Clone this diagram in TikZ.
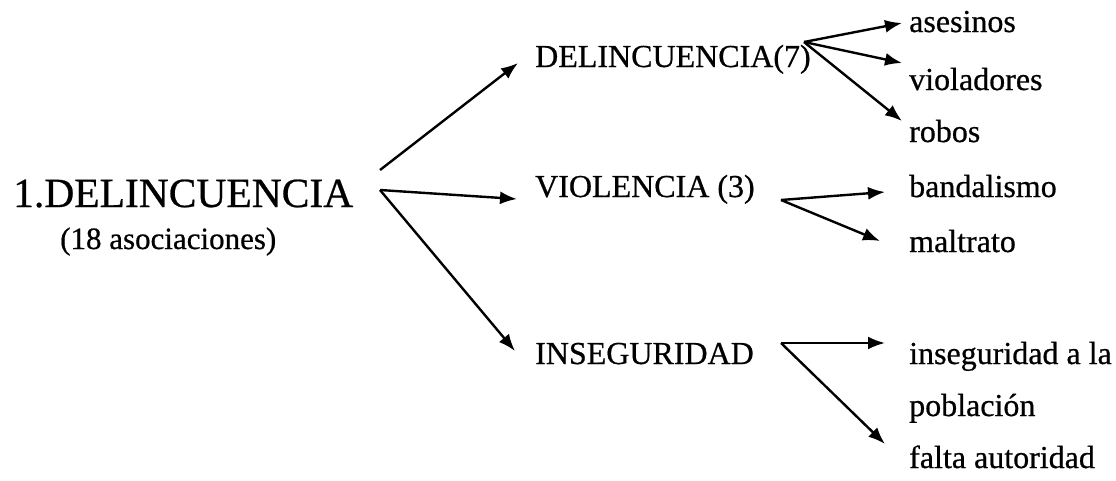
\documentclass[tikz,border=0pt]{standalone}
\usepackage{fontspec}
\setmainfont{Liberation Serif}
\newfontfamily\scanfont{Liberation Serif}[FakeBold=0.6]
\usetikzlibrary{arrows.meta}
\begin{document}
\begin{tikzpicture}[x=1pt,y=-1pt,
  lbl/.style={anchor=base west,inner sep=0pt,font=\scanfont\fontsize{32}{38}\selectfont},
  big/.style={anchor=base west,inner sep=0pt,font=\scanfont\fontsize{41.5}{48}\selectfont},
  subl/.style={anchor=base west,inner sep=0pt,font=\scanfont\fontsize{31}{36}\selectfont},
  conn/.style={line width=2.4pt,-{Latex[length=17pt,width=13pt]}}]
\useasboundingbox (0,0) rectangle (1116,480);
\node[big] (main) at (13,207) {1.DELINCUENCIA};
\node[subl] (subt) at (60,249) {(18 asociaciones)};
\node[lbl] (d7) at (535,67) {DELINCUENCIA(7)};
\node[lbl] (vio) at (535,197) {VIOLENCIA (3)};
\node[lbl] (ins) at (535,364) {INSEGURIDAD};
\node[lbl] (ase) at (909,32) {asesinos};
\node[lbl] (vld) at (909,90) {violadores};
\node[lbl] (rob) at (909,142) {robos};
\node[lbl] (ban) at (909,197) {bandalismo};
\node[lbl] (mal) at (909,252) {maltrato};
\node[lbl] (inl) at (909,364) {inseguridad a la};
\node[lbl] (pob) at (909,416) {población};
\node[lbl] (fal) at (909,468) {falta autoridad};
% arrow end points
\coordinate (m1) at (380,170);
\coordinate (m2) at (380,190);
\coordinate (t1) at (518,63);
\coordinate (t2) at (517,199);
\coordinate (t3) at (515,351);
\coordinate (o7) at (804,42);
\coordinate (a1) at (902,23);
\coordinate (a2) at (902,63);
\coordinate (a3) at (902,121);
\coordinate (ov) at (781,200);
\coordinate (b1) at (885,192);
\coordinate (b2) at (880,241);
\coordinate (oi) at (781,343);
\coordinate (c1) at (885,343);
\coordinate (c2) at (885,444);
\draw[conn] (m1) -- (t1);
\draw[conn] (m2) -- (t2);
\draw[conn] (m2) -- (t3);
\draw[conn] (o7) -- (a1);
\draw[conn] (o7) -- (a2);
\draw[conn] (o7) -- (a3);
\draw[conn] (ov) -- (b1);
\draw[conn] (ov) -- (b2);
\draw[conn] (oi) -- (c1);
\draw[conn] (oi) -- (c2);
\end{tikzpicture}
\end{document}
